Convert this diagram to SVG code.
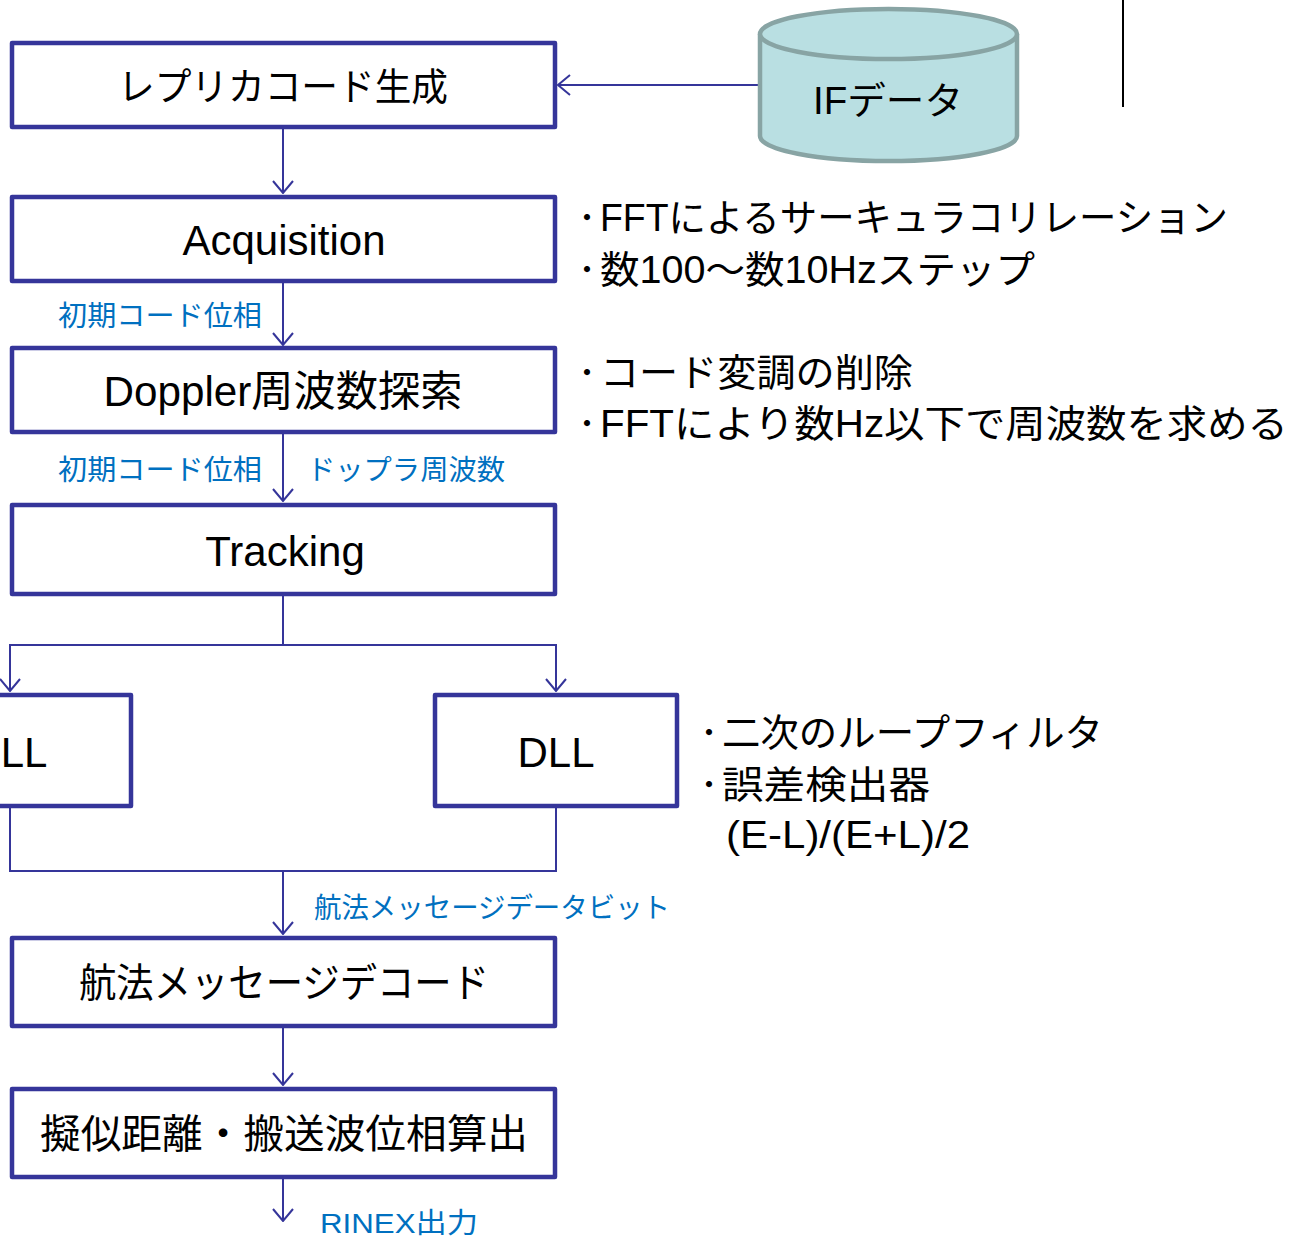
<svg xmlns="http://www.w3.org/2000/svg" width="1292" height="1238" viewBox="0 0 1292 1238">
<style>
.box{fill:#fff;stroke:#35359a;stroke-width:4.5;stroke-linejoin:round}
.t{font-family:"Liberation Sans","Noto Sans CJK JP",sans-serif;fill:#000;text-anchor:middle}
.n{font-family:"Liberation Sans","Noto Sans CJK JP",sans-serif;fill:#000;font-size:38px}
.dot{font-family:"Noto Sans CJK JP",sans-serif;fill:#000;font-size:24px;font-weight:bold}
.lbl{font-family:"Liberation Sans","Noto Sans CJK JP",sans-serif;fill:#0070c0;font-size:28px}
.c{fill:none;stroke:#35359a;stroke-width:2}
</style>
<defs>
<marker id="ah" viewBox="0 0 14 22" refX="13" refY="11" markerWidth="14" markerHeight="22" markerUnits="userSpaceOnUse" orient="auto">
<path d="M1,1 L13,11 L1,21" fill="none" stroke="#35359a" stroke-width="2"/>
</marker>
</defs>
<rect width="1292" height="1238" fill="#fff"/>
<line x1="1123" y1="0" x2="1123" y2="107" stroke="#000" stroke-width="2"/>
<g id="connectors">
<line class="c" x1="758" y1="85" x2="558" y2="85" marker-end="url(#ah)"/>
<line class="c" x1="283" y1="128" x2="283" y2="193" marker-end="url(#ah)"/>
<line class="c" x1="283" y1="282" x2="283" y2="345" marker-end="url(#ah)"/>
<line class="c" x1="283" y1="433" x2="283" y2="501" marker-end="url(#ah)"/>
<polyline class="c" points="283,595 283,645"/>
<polyline class="c" points="10,691 10,645 556,645 556,691"/>
<line class="c" x1="10" y1="645" x2="10" y2="691" marker-end="url(#ah)"/>
<line class="c" x1="556" y1="645" x2="556" y2="691" marker-end="url(#ah)"/>
<polyline class="c" points="10,807 10,871 556,871 556,807"/>
<line class="c" x1="283" y1="871" x2="283" y2="934" marker-end="url(#ah)"/>
<line class="c" x1="283" y1="1027" x2="283" y2="1085" marker-end="url(#ah)"/>
<line class="c" x1="283" y1="1178" x2="283" y2="1221" marker-end="url(#ah)"/>
</g>
<g id="if-data">
<path d="M760,34 L760,136 A128.5,25 0 0 0 1017,136 L1017,34" fill="#b9dfe2" stroke="#88a4a4" stroke-width="4.5"/>
<ellipse cx="888.5" cy="34" rx="128.5" ry="25" fill="#b9dfe2" stroke="#88a4a4" stroke-width="4.5"/>
<text class="t" x="888" y="114" font-size="38" textLength="150" lengthAdjust="spacingAndGlyphs">IFデータ</text>
</g>
<g id="replica">
<rect class="box" x="12" y="43" width="543" height="84"/>
<text class="t" x="283" y="100" font-size="38" textLength="330" lengthAdjust="spacingAndGlyphs">レプリカコード生成</text>
</g>
<g id="acquisition">
<rect class="box" x="12" y="197" width="543" height="84"/>
<text class="t" x="284" y="255" font-size="42">Acquisition</text>
</g>
<g id="doppler">
<rect class="box" x="12" y="348" width="543" height="84"/>
<text class="t" x="283" y="406" font-size="42" textLength="359" lengthAdjust="spacingAndGlyphs">Doppler周波数探索</text>
</g>
<g id="tracking">
<rect class="box" x="12" y="505" width="543" height="89"/>
<text class="t" x="285" y="566" font-size="42">Tracking</text>
</g>
<g id="pll">
<rect class="box" x="-111" y="695" width="242" height="111"/>
<text class="t" x="10" y="767" font-size="42">PLL</text>
</g>
<g id="dll">
<rect class="box" x="435" y="695" width="242" height="111"/>
<text class="t" x="556" y="767" font-size="42">DLL</text>
</g>
<g id="nav-decode">
<rect class="box" x="12" y="938" width="543" height="88"/>
<text class="t" x="284" y="997" font-size="40" textLength="410" lengthAdjust="spacingAndGlyphs">航法メッセージデコード</text>
</g>
<g id="pseudorange">
<rect class="box" x="12" y="1089" width="543" height="88"/>
<text class="t" x="284" y="1148" font-size="40" textLength="488" lengthAdjust="spacingAndGlyphs">擬似距離・搬送波位相算出</text>
</g>
<g id="labels">
<text class="lbl" x="58" y="326" textLength="204" lengthAdjust="spacingAndGlyphs">初期コード位相</text>
<text class="lbl" x="58" y="480" textLength="204" lengthAdjust="spacingAndGlyphs">初期コード位相</text>
<text class="lbl" x="307" y="480" textLength="198" lengthAdjust="spacingAndGlyphs">ドップラ周波数</text>
<text class="lbl" x="314" y="918" textLength="356" lengthAdjust="spacingAndGlyphs">航法メッセージデータビット</text>
<text class="lbl" x="320" y="1233" textLength="158" lengthAdjust="spacingAndGlyphs">RINEX出力</text>
</g>
<g id="notes">
<text class="dot" x="575" y="226">・</text>
<text class="n" x="600" y="231" textLength="628" lengthAdjust="spacingAndGlyphs">FFTによるサーキュラコリレーション</text>
<text class="dot" x="575" y="278">・</text>
<text class="n" x="600" y="283" textLength="435" lengthAdjust="spacingAndGlyphs">数100～数10Hzステップ</text>
<text class="dot" x="575" y="381">・</text>
<text class="n" x="600" y="386" textLength="313" lengthAdjust="spacingAndGlyphs">コード変調の削除</text>
<text class="dot" x="575" y="432">・</text>
<text class="n" x="600" y="437" textLength="688" lengthAdjust="spacingAndGlyphs">FFTにより数Hz以下で周波数を求める</text>
<text class="dot" x="697" y="741">・</text>
<text class="n" x="722" y="746" textLength="381" lengthAdjust="spacingAndGlyphs">二次のループフィルタ</text>
<text class="dot" x="697" y="793">・</text>
<text class="n" x="722" y="798" textLength="208" lengthAdjust="spacingAndGlyphs">誤差検出器</text>
<text class="n" x="726" y="848" textLength="244" lengthAdjust="spacingAndGlyphs">(E-L)/(E+L)/2</text>
</g>
</svg>
